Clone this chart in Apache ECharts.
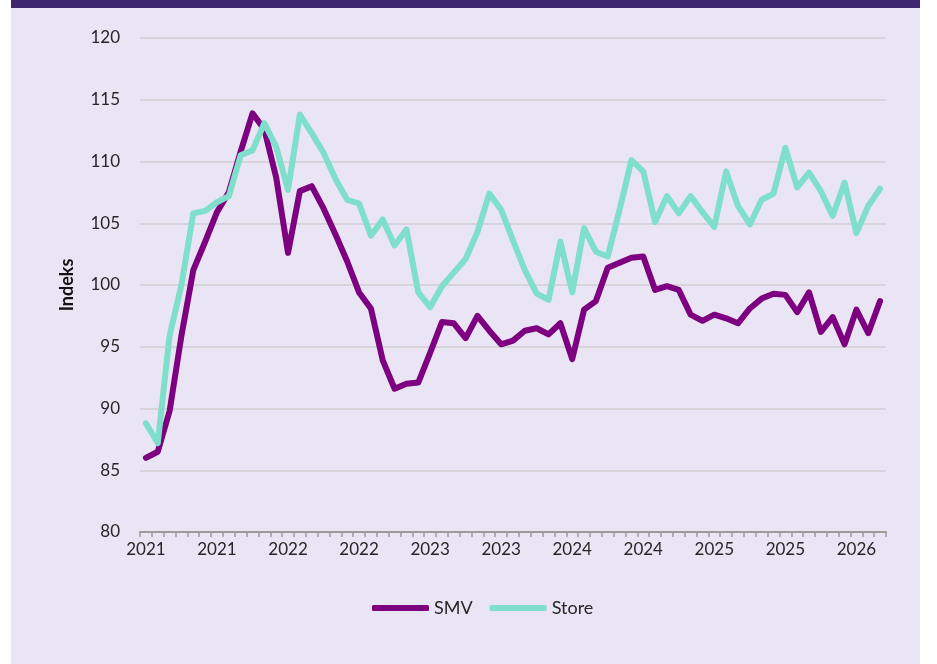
<!DOCTYPE html>
<html>
<head>
<meta charset="utf-8">
<script src="https://cdn.jsdelivr.net/npm/echarts@6/dist/echarts.min.js"></script>
<style>
  html, body { margin: 0; padding: 0; background: #ffffff; }
  #main { width: 937px; height: 664px; }
</style>
</head>
<body>
<div id="main"></div>
<script>
// months, Jan 2021 - Mar 2026
var months = [
    '2021-01', '2021-02', '2021-03', '2021-04', '2021-05', '2021-06',
    '2021-07', '2021-08', '2021-09', '2021-10', '2021-11', '2021-12',
    '2022-01', '2022-02', '2022-03', '2022-04', '2022-05', '2022-06',
    '2022-07', '2022-08', '2022-09', '2022-10', '2022-11', '2022-12',
    '2023-01', '2023-02', '2023-03', '2023-04', '2023-05', '2023-06',
    '2023-07', '2023-08', '2023-09', '2023-10', '2023-11', '2023-12',
    '2024-01', '2024-02', '2024-03', '2024-04', '2024-05', '2024-06',
    '2024-07', '2024-08', '2024-09', '2024-10', '2024-11', '2024-12',
    '2025-01', '2025-02', '2025-03', '2025-04', '2025-05', '2025-06',
    '2025-07', '2025-08', '2025-09', '2025-10', '2025-11', '2025-12',
    '2026-01', '2026-02', '2026-03'
];

var smv = [
    86.0, 86.5, 89.8, 95.9, 101.2, 103.5, 105.9, 107.5, 110.8, 113.9,
    112.6, 108.7, 102.6, 107.6, 108.0, 106.2, 104.1, 101.9, 99.4, 98.1,
    93.9, 91.6, 92.0, 92.1, 94.5, 97.0, 96.9, 95.7, 97.5, 96.3,
    95.2, 95.5, 96.3, 96.5, 96.0, 96.9, 94.0, 98.0, 98.7, 101.4,
    101.8, 102.2, 102.3, 99.6, 99.9, 99.6, 97.6, 97.1, 97.6, 97.3,
    96.9, 98.1, 98.9, 99.3, 99.2, 97.8, 99.4, 96.2, 97.4, 95.2,
    98.0, 96.1, 98.7
];

var store = [
    88.8, 87.2, 95.9, 100.0, 105.8, 106.0, 106.7, 107.2, 110.5, 110.9,
    113.1, 111.2, 107.7, 113.8, 112.3, 110.7, 108.6, 106.9, 106.6, 104.0,
    105.3, 103.2, 104.5, 99.4, 98.2, 99.9, 101.0, 102.1, 104.3, 107.4,
    106.1, 103.6, 101.2, 99.3, 98.8, 103.5, 99.4, 104.6, 102.7, 102.3,
    106.1, 110.1, 109.2, 105.1, 107.2, 105.8, 107.2, 105.9, 104.7, 109.2,
    106.4, 104.9, 106.9, 107.4, 111.1, 107.9, 109.1, 107.6, 105.6, 108.3,
    104.2, 106.4, 107.8
];

var yTicks = [80, 85, 90, 95, 100, 105, 110, 115, 120];

var myChart = echarts.init(document.getElementById('main'));

var font = 'Lato';

var option = {
    backgroundColor: '#ffffff',
    animation: false,
    textStyle: {fontFamily: font},
    graphic: [
        {
            type: 'rect',
            left: 11,
            top: 0,
            z: -10,
            shape: {width: 909, height: 664},
            style: {fill: '#e9e5f4'}
        },
        {
            type: 'rect',
            left: 11,
            top: 0,
            z: -9,
            shape: {width: 909, height: 8},
            style: {fill: '#3f2670'}
        }
    ],
    grid: {
        left: 140,
        right: 51,
        top: 38,
        bottom: 132
    },
    legend: {
        bottom: 42,
        left: 367,
        icon: 'roundRect',
        itemWidth: 57,
        itemHeight: 6,
        itemGap: 17,
        textStyle: {fontSize: 18, color: '#262626', fontFamily: font},
        data: ['SMV', 'Store']
    },
    xAxis: {
        type: 'category',
        data: months,
        boundaryGap: true,
        axisLine: {lineStyle: {color: '#9a9a9a', width: 2}},
        axisTick: {show: true, interval: 0, length: 5, lineStyle: {color: '#9a9a9a', width: 1.5}},
        axisLabel: {
            interval: 5,
            margin: 9,
            fontSize: 17,
            color: '#262626',
            fontFamily: font,
            formatter: function (value) {
                return value.slice(0, 4);
            }
        },
        splitLine: {show: false}
    },
    yAxis: {
        type: 'value',
        min: yTicks[0],
        max: yTicks[yTicks.length - 1],
        interval: 5,
        name: 'Indeks',
        nameLocation: 'middle',
        nameRotate: 90,
        nameGap: 64,
        nameTextStyle: {fontSize: 18, color: '#111', fontWeight: 'bold', fontFamily: font},
        axisLine: {show: false},
        axisTick: {show: false},
        axisLabel: {fontSize: 17, color: '#262626', margin: 20, fontFamily: font},
        splitLine: {lineStyle: {color: '#d8d4dc', width: 2}}
    },
    series: [
        {
            name: 'SMV',
            type: 'line',
            data: smv,
            showSymbol: false,
            symbol: 'none',
            lineStyle: {color: '#7d0080', width: 6, cap: 'round', join: 'round'},
            itemStyle: {color: '#7d0080'}
        },
        {
            name: 'Store',
            type: 'line',
            data: store,
            showSymbol: false,
            symbol: 'none',
            lineStyle: {color: '#7fdfca', width: 6, cap: 'round', join: 'round'},
            itemStyle: {color: '#7fdfca'}
        }
    ]
};

myChart.setOption(option);
</script>
</body>
</html>
